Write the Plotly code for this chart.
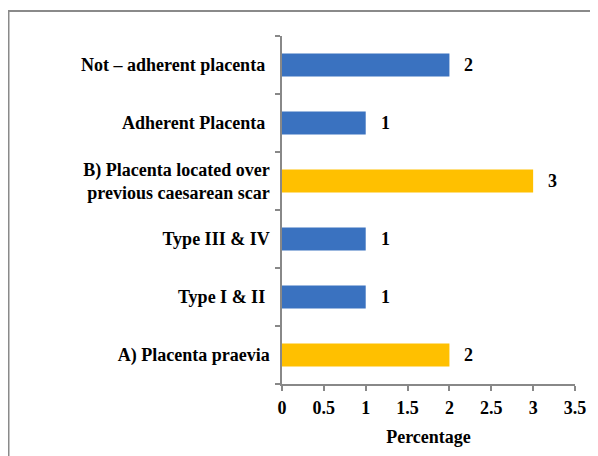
import plotly.graph_objects as go

categories = [
    "A) Placenta praevia",
    "Type I & II\u00a0",
    "Type III & IV",
    "B) Placenta located over<br>previous caesarean scar",
    "Adherent Placenta\u00a0",
    "Not \u2013 adherent placenta\u00a0",
]
values = [2, 1, 1, 3, 1, 2]
colors = ["#FFC000", "#3A72C0", "#3A72C0", "#FFC000", "#3A72C0", "#3A72C0"]
x_ticks = [0, 0.5, 1, 1.5, 2, 2.5, 3, 3.5]
x_title = "Percentage"

FONT = "Liberation Serif"
# page body has an 8px margin; figure occupies 590x448 starting at (8, 8)
W, H = 590, 448
L, R, T, B = 274, 23, 28, 66
pw, ph = W - L - R, H - T - B

fig = go.Figure()
fig.add_trace(go.Bar(
    y=categories, x=values, orientation="h",
    marker=dict(color=colors, line=dict(width=0)),
    width=0.4, hoverinfo="skip",
))

for c, v in zip(categories, values):
    fig.add_annotation(x=v, y=c, text=f"<b>{v}</b>", showarrow=False,
                       xanchor="left", xshift=13,
                       font=dict(family=FONT, size=18, color="black"))

fig.add_shape(type="rect", xref="paper", yref="paper",
              x0=(0.5 - L) / pw, x1=2, y0=-2, y1=(T + ph - 2.5) / ph,
              line=dict(color="#8A8A8A", width=2), layer="below")

fig.update_layout(
    width=W, height=H,
    margin=dict(l=L, r=R, t=T, b=B),
    paper_bgcolor="white", plot_bgcolor="white",
    showlegend=False,
    font=dict(family=FONT, size=18, color="black"),
    xaxis=dict(
        range=[0, 3.5], tickvals=x_ticks,
        ticktext=[f"<b>{t:g}</b>" for t in x_ticks],
        showgrid=False, zeroline=False,
        showline=True, linecolor="#888888", linewidth=1.5,
        ticks="outside", ticklen=5, tickcolor="#888888", tickwidth=1.5,
        ticklabelstandoff=2,
        title=dict(text=f"<b>{x_title}</b>", font=dict(family=FONT, size=18), standoff=13),
        tickfont=dict(family=FONT, size=18),
    ),
    yaxis=dict(
        showgrid=False, zeroline=False,
        showline=True, linecolor="#888888", linewidth=1.5,
        ticks="outside", ticklen=5, tickcolor="#888888", tickwidth=1.5,
        tickson="boundaries",
        tickvals=categories,
        ticktext=[f"<b>{c}</b>" for c in categories],
        tickfont=dict(family=FONT, size=18),
        ticklabelstandoff=7,
        range=[-0.5, 5.5],
    ),
)

fig.write_html("out.html")
